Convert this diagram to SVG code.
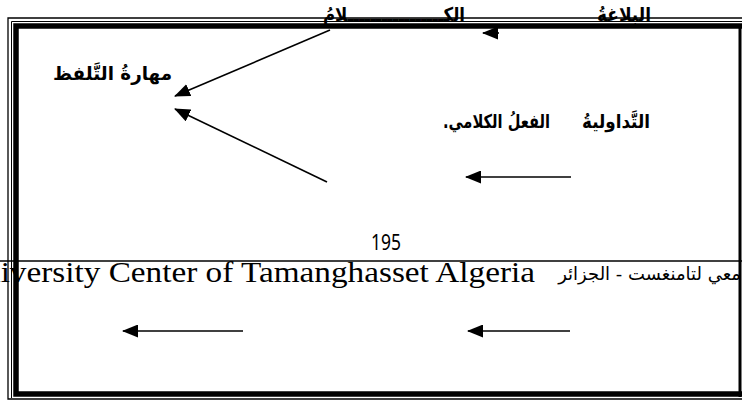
<svg xmlns="http://www.w3.org/2000/svg" width="742" height="400" viewBox="0 0 742 400">
<defs>
<style>
.ar{font-family:"DejaVu Sans",sans-serif;font-weight:bold;font-size:19px;fill:#000}
.arr{font-family:"DejaVu Sans",sans-serif;font-size:18px;fill:#000}
.en{font-family:"Liberation Serif",serif;font-size:29px;fill:#000}
.num{font-family:"Noto Sans","Liberation Sans",sans-serif;font-size:21px;fill:#000}
.ln{stroke:#000;stroke-width:1.6;fill:none}
.bd{stroke:#000;fill:none}
</style>
<marker id="ah" markerWidth="16" markerHeight="13" refX="15" refY="6.5" orient="auto" markerUnits="userSpaceOnUse">
<path d="M0,0 L16,6.5 L0,13 Z" fill="#000"/>
</marker>
</defs>
<rect width="742" height="400" fill="#fff"/>
<g id="border">
<path class="bd" stroke-width="1.3" d="M742,18 H8 V399 H742"/>
<path class="bd" stroke-width="1" d="M742,21.5 H11.5 V398"/>
<path class="bd" stroke-width="5.5" d="M742,26 H16 V394 H742"/>
<line class="bd" stroke-width="3" x1="740" y1="26" x2="740" y2="397"/>
<line class="bd" stroke-width="1.4" x1="0" y1="261" x2="742" y2="261"/>
</g>
<g id="footer">
<text class="num" x="386" y="250" text-anchor="middle" textLength="30" lengthAdjust="spacingAndGlyphs">195</text>
<text class="en" x="-40" y="282" textLength="575" lengthAdjust="spacingAndGlyphs">University Center of Tamanghasset Algeria</text>
<text class="arr" x="741" y="280" text-anchor="start" direction="rtl">معي لتامنغست - الجزائر</text>
</g>
<g id="node-balagha"><text class="ar" x="651" y="21" direction="rtl" textLength="54" lengthAdjust="spacingAndGlyphs">البلاغةُ</text></g>
<g id="node-kalam"><text class="ar" x="465" y="21" direction="rtl" textLength="142" lengthAdjust="spacingAndGlyphs">الكـــــــــــــــــلامُ</text></g>
<g id="node-maharat"><text class="ar" x="172" y="80" direction="rtl" textLength="119" lengthAdjust="spacingAndGlyphs">مهارةُ التَّلفظ</text></g>
<g id="node-tadawuliya"><text class="ar" x="650" y="128" direction="rtl" textLength="68" lengthAdjust="spacingAndGlyphs">التَّداوليةُ</text></g>
<g id="node-fiel"><text class="ar" x="550" y="128" direction="rtl" textLength="107" lengthAdjust="spacingAndGlyphs">الفعلُ الكلامي.</text></g>
<g id="connectors">
<line class="ln" x1="499" y1="33" x2="483" y2="33" marker-end="url(#ah)"/>
<line class="ln" x1="330" y1="30" x2="175" y2="96" marker-end="url(#ah)"/>
<line class="ln" x1="327" y1="182" x2="175" y2="109" marker-end="url(#ah)"/>
<line class="ln" x1="571" y1="177" x2="466" y2="177" marker-end="url(#ah)"/>
<line class="ln" x1="243" y1="331" x2="123" y2="331" marker-end="url(#ah)"/>
<line class="ln" x1="570" y1="331" x2="468" y2="331" marker-end="url(#ah)"/>
</g>
</svg>
